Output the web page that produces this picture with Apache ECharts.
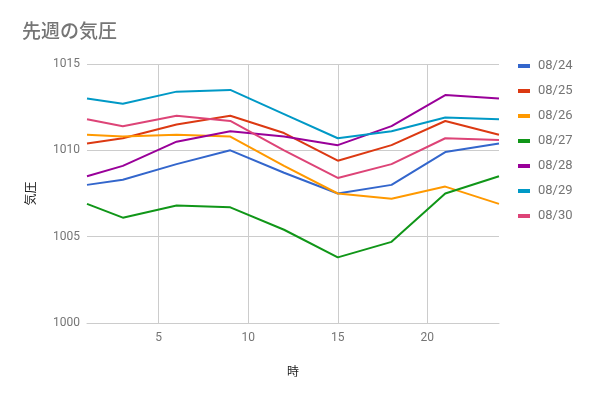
<!DOCTYPE html>
<html>
<head>
<meta charset="utf-8">
<script src="https://cdn.jsdelivr.net/npm/echarts@6/dist/echarts.min.js"></script>
<style>
html,body{margin:0;padding:0;background:#fff;}
#c{width:591px;height:397px;}
</style>
</head>
<body>
<div id="c"></div>
<script>
const hours = [1, 3, 6, 9, 12, 15, 18, 21, 24];
const seriesNames = ['08/24', '08/25', '08/26', '08/27', '08/28', '08/29', '08/30'];
const d0824 = [1008.0, 1008.3, 1009.2, 1010.0, 1008.7, 1007.5, 1008.0, 1009.9, 1010.4];
const d0825 = [1010.4, 1010.7, 1011.5, 1012.0, 1011.0, 1009.4, 1010.3, 1011.7, 1010.9];
const d0826 = [1010.9, 1010.8, 1010.9, 1010.8, 1009.1, 1007.5, 1007.2, 1007.9, 1006.9];
const d0827 = [1006.9, 1006.1, 1006.8, 1006.7, 1005.4, 1003.8, 1004.7, 1007.5, 1008.5];
const d0828 = [1008.5, 1009.1, 1010.5, 1011.1, 1010.8, 1010.3, 1011.4, 1013.2, 1013.0];
const d0829 = [1013.0, 1012.7, 1013.4, 1013.5, 1012.1, 1010.7, 1011.1, 1011.9, 1011.8];
const d0830 = [1011.8, 1011.4, 1012.0, 1011.7, 1010.0, 1008.4, 1009.2, 1010.7, 1010.6];
const yTicks = [1000, 1005, 1010, 1015];
const colors = ['#3366CC', '#DC3912', '#FF9900', '#109618', '#990099', '#0099C6', '#DD4477'];

const allData = [d0824, d0825, d0826, d0827, d0828, d0829, d0830];
const chart = echarts.init(document.getElementById('c'), null, {renderer: 'canvas'});
const font = 'Roboto, "Noto Sans CJK JP", sans-serif';
chart.setOption({
  animation: false,
  color: colors,
  title: {
    text: '先週の気圧',
    left: 17, top: 16,
    textStyle: {fontFamily: '"Noto Sans CJK JP", sans-serif', fontSize: 19, fontWeight: 500, color: '#757575'}
  },
  legend: {
    orient: 'vertical',
    left: 513, top: 53,
    icon: 'rect',
    itemWidth: 12, itemHeight: 4,
    itemGap: 9,
    data: seriesNames,
    textStyle: {fontFamily: font, fontSize: 13, color: '#757575', lineHeight: 16, padding: [0,0,0,3]}
  },
  grid: {left: 87, right: 92, top: 64, bottom: 74, containLabel: false},
  xAxis: {
    type: 'value',
    min: hours[0], max: hours[hours.length - 1],
    splitNumber: 5,
    name: '時',
    nameLocation: 'middle',
    nameGap: 42,
    nameTextStyle: {fontFamily: '"Noto Sans CJK JP", sans-serif', fontSize: 12, color: '#222'},
    axisLine: {show: true, lineStyle: {color: '#cccccc', width: 1}},
    axisTick: {show: false},
    axisLabel: {showMinLabel: false, showMaxLabel: false, fontFamily: font, fontSize: 12, color: '#757575', margin: 9},
    splitLine: {show: true, showMinLine: false, showMaxLine: false, lineStyle: {color: '#cccccc', width: 1}}
  },
  yAxis: {
    type: 'value',
    min: yTicks[0], max: yTicks[yTicks.length - 1], interval: 5,
    name: '気圧',
    nameLocation: 'middle',
    nameGap: 51,
    nameTextStyle: {fontFamily: '"Noto Sans CJK JP", sans-serif', fontSize: 12, color: '#222'},
    axisLine: {show: false},
    axisTick: {show: false},
    axisLabel: {formatter: v => String(v), fontFamily: font, fontSize: 12, color: '#757575', margin: 7},
    splitLine: {show: true, lineStyle: {color: '#cccccc', width: 1}}
  },
  series: seriesNames.map((n, i) => ({
    name: n,
    type: 'line',
    symbol: 'none',
    lineStyle: {width: 2},
    data: hours.map((h, j) => [h, allData[i][j]])
  }))
});
</script>
</body>
</html>
